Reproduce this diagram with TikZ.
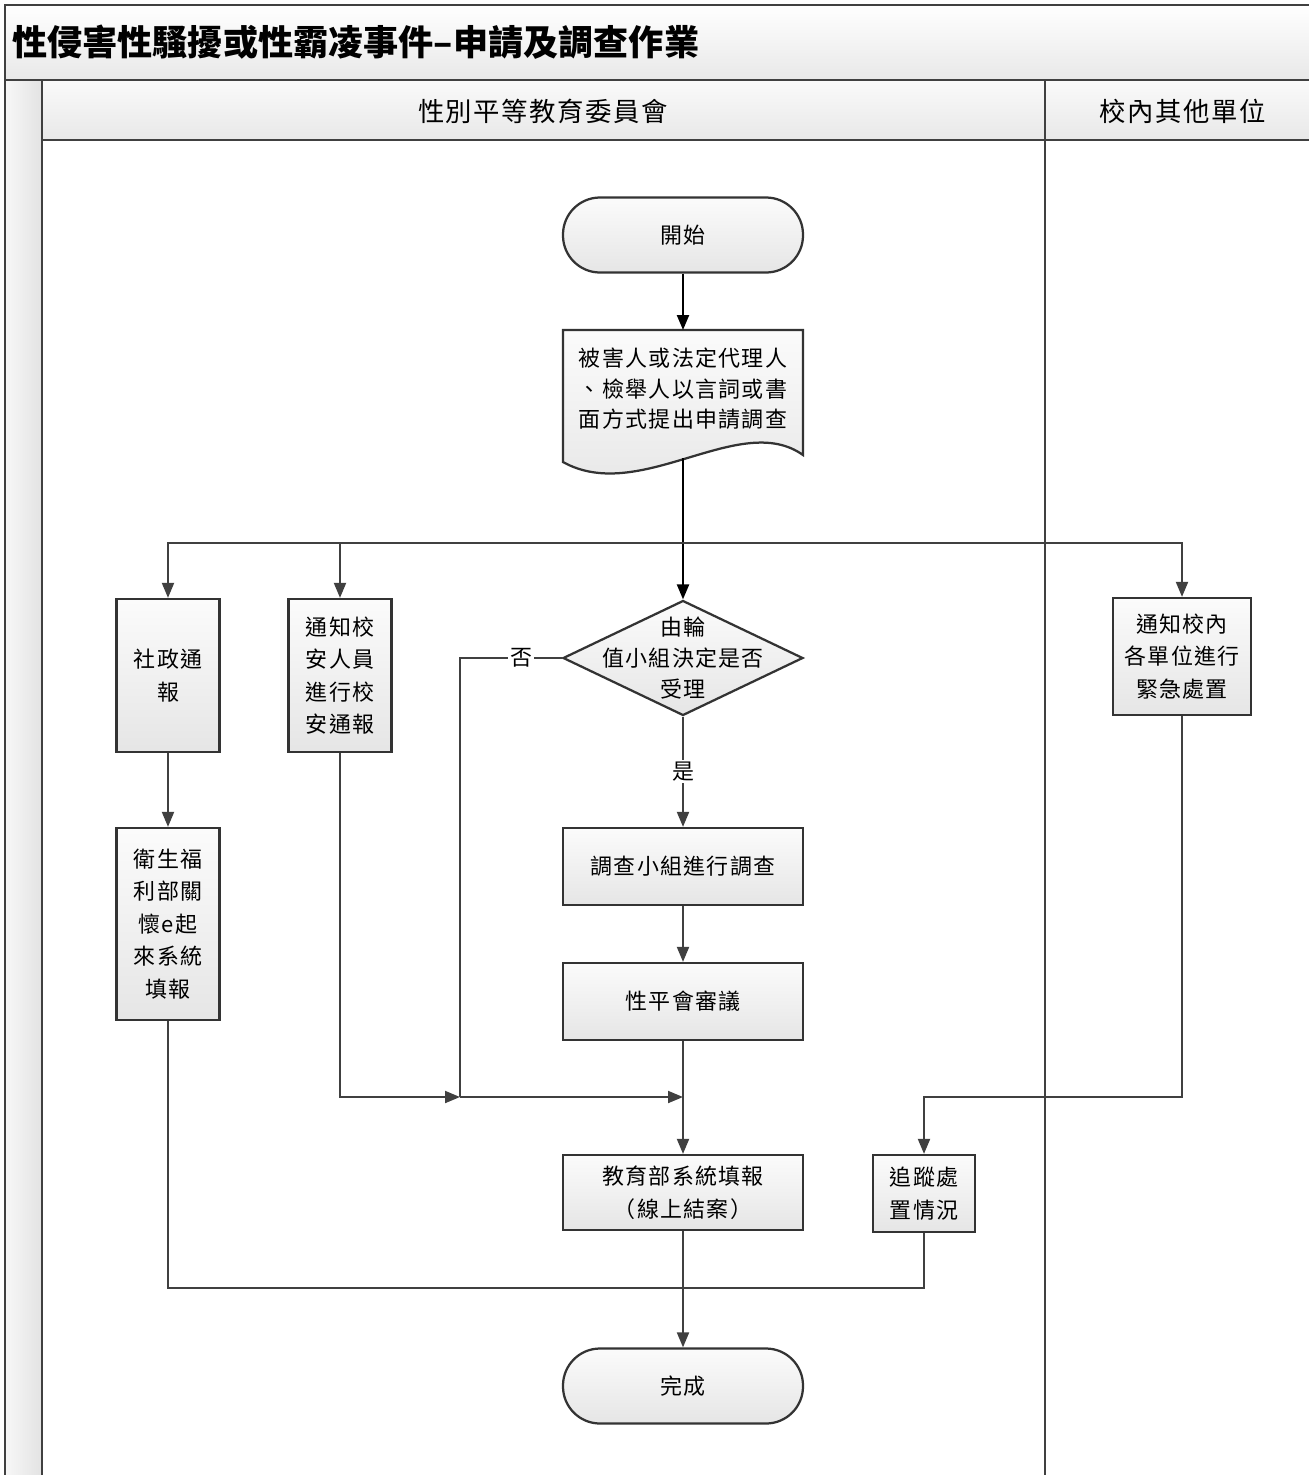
\documentclass[tikz,border=0pt]{standalone}
\usepackage{fontspec}
\setmainfont{Noto Sans CJK TC}[LetterSpace=6]
\newfontfamily\titlefont{Noto Sans CJK TC}
\usetikzlibrary{arrows.meta, shapes.geometric}

\tikzset{
  lane/.style={draw=black!75, line width=0.5mm},
  procbox/.style={draw=black!80, line width=0.45mm, top color=gray!3, bottom color=gray!20,
    align=center, inner sep=0pt, font=\fontsize{12.5}{18.5}\selectfont},
  startstop/.style={procbox, rounded corners=7.4mm, minimum width=48mm, minimum height=15mm},
  decision/.style={procbox, diamond, minimum width=48mm, minimum height=23mm},
  conn/.style={draw=black!75, line width=0.4mm},
  arr/.style={conn, -{Triangle[length=3mm, width=2.4mm]}},
  firstarr/.style={draw=black, line width=0.45mm, -{Triangle[length=3mm, width=2.4mm]}},
  yesno/.style={fill=white, inner sep=1pt, font=\fontsize{12.5}{15}\selectfont},
  lanetext/.style={font=\fontsize{15}{17}\selectfont}
}

\begin{document}
\begin{tikzpicture}[x=0.2mm, y=-0.2mm]
    \useasboundingbox (0,0) rectangle (1309,1475);
    \clip (0,0) rectangle (1309,1475);

    % Lanes
    \path[lane, top color=white, bottom color=gray!18] (5,5) rectangle (1330,80);
    \path[lane, left color=gray!6, right color=gray!22] (5,80) rectangle (42,1500);
    \path[lane, top color=gray!4, bottom color=gray!18] (42,80) rectangle (1330,140);
    \draw[lane] (1045,80) -- (1045,1500);
    \node[anchor=west, font=\titlefont\bfseries\fontsize{20}{22}\selectfont] (title) at (6,42) {性侵害性騷擾或性霸凌事件–申請及調查作業};
    \node[lanetext] (lane1) at (543,111) {性別平等教育委員會};
    \node[lanetext] (lane2) at (1183,111) {校內其他單位};

    % Draw nodes
    \node[startstop] (start) at (683,235) {開始};
    \path[draw=black!80, line width=0.45mm, top color=gray!3, bottom color=gray!20]
        (563,330) -- (803,330) -- (803,455) .. controls (740,410) and (640,505) .. (563,462) -- cycle;
    \node[align=center, font=\fontsize{12.5}{17.3}\selectfont] (apply) at (683,389) {被害人或法定代理人\\、檢舉人以言詞或書\\面方式提出申請調查};
    \coordinate (applyb) at (683,458);
    \coordinate (split) at (683,543);
    \node[decision, label={[align=center, font=\fontsize{12.5}{17.5}\selectfont]center:由輪\\值小組決定是否\\受理}] (accept) at (683,658) {};
    \node[procbox, minimum width=20.6mm, minimum height=30.6mm] (social) at (168,675.5) {社政通\\報};
    \node[procbox, minimum width=20.6mm, minimum height=38.4mm] (welfare) at (168,924) {衛生福\\利部關\\懷e起\\來系統\\填報};
    \node[procbox, minimum width=20.6mm, minimum height=30.6mm] (safety) at (340,675.5) {通知校\\安人員\\進行校\\安通報};
    \node[procbox, minimum width=27.6mm, minimum height=23.4mm] (notify) at (1182,656.5) {通知校內\\各單位進行\\緊急處置};
    \node[procbox, minimum width=48mm, minimum height=15.4mm] (probe) at (683,866.5) {調查小組進行調查};
    \node[procbox, minimum width=48mm, minimum height=15.4mm] (review) at (683,1001.5) {性平會審議};
    \node[procbox, minimum width=48mm, minimum height=15mm] (report) at (683,1192.5) {教育部系統填報\\（線上結案）};
    \node[procbox, minimum width=20.4mm, minimum height=15.4mm] (track) at (924,1193.5) {追蹤處\\置情況};
    \node[startstop] (finish) at (683,1386) {完成};
    \coordinate (merge) at (683,1097);
    \coordinate (nojoin) at (460,1097);
    \coordinate (trackin) at (1182,1097);
    \coordinate (endline) at (683,1288);

    % Draw connections
    \draw[firstarr] (start) -- (apply.north |- 0,330);
    \draw[firstarr] (applyb) -- (accept.north);
    \draw[arr] (split) -| (social.north);
    \draw[arr] (split) -| (safety.north);
    \draw[arr] (split) -| (notify.north);
    \draw[arr] (social) -- (welfare);
    \draw[conn] (accept.west) -- (460,658) node[yesno, pos=0.4] {否} -- (nojoin);
    \draw[arr] (safety.south) |- (nojoin);
    \draw[arr] (nojoin) -- (merge);
    \draw[arr] (accept.south) -- (probe.north) node[yesno, midway] {是};
    \draw[arr] (probe) -- (review);
    \draw[conn] (review) -- (merge);
    \draw[arr] (merge) -- (report.north);
    \draw[arr] (notify.south) -- (trackin) -| (track.north);
    \draw[conn] (track.south) |- (endline) -| (welfare.south);
    \draw[arr] (report) -- (finish);
\end{tikzpicture}
\end{document}
